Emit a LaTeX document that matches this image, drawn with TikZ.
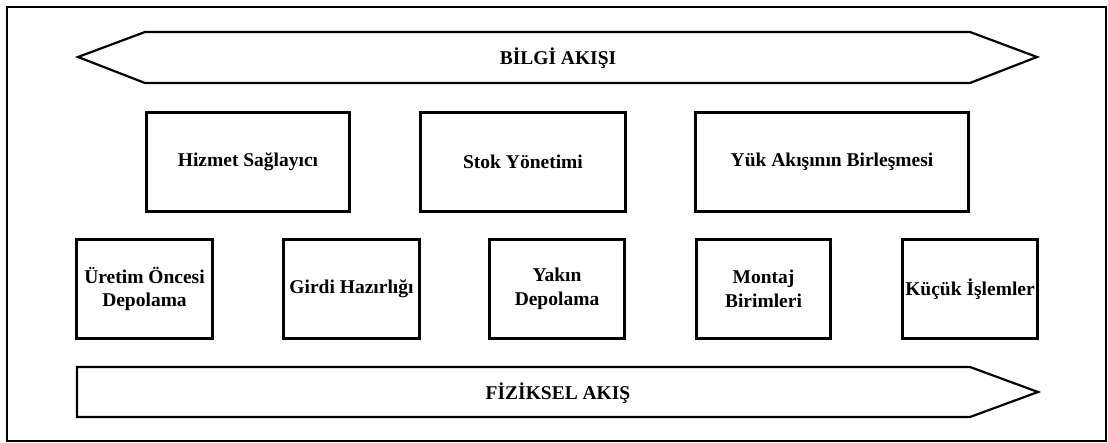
\documentclass[tikz,border=0pt]{standalone}
\usepackage{fontspec}
\setmainfont{Liberation Serif}
\usepackage{tikz}
\usetikzlibrary{positioning}

\begin{document}
\begin{tikzpicture}[
	x=1pt, y=-1pt,
	box/.style={draw, line width=2.8pt, align=center, inner sep=0pt, minimum height=99pt, font=\fontsize{19.5}{23.5}\selectfont\bfseries},
	flow/.style={draw, line width=2.2pt, line join=miter},
	lbl/.style={font=\fontsize{19.5}{23.5}\selectfont\bfseries}
]
\useasboundingbox (0,0) rectangle (1108,443);
\draw[line width=2pt] (7,7) rectangle (1106,441);

% information flow (both ways)
\coordinate (bl) at (78,57);
\coordinate (br) at (1037,57);
\draw[flow] (bl) -- (145,32) -- (970,32) -- (br) -- (970,83) -- (145,83) -- cycle;
\node[lbl] (bilgi) at (558,58) {BİLGİ AKIŞI};

% upper row
\node[box, minimum width=203pt] (hizmet) at (248,162) {Hizmet Sağlayıcı};
\node[box, minimum width=205pt] (stok) at (523,162) {Stok Yönetimi};
\node[box, minimum width=273pt] (yuk) at (832,162) {Yük Akışının Birleşmesi};

% lower row
\node[box, minimum width=136pt] (uretim) at (144.5,289) {Üretim Öncesi\\Depolama};
\node[box, minimum width=136pt] (girdi) at (351.5,289) {Girdi Hazırlığı};
\node[box, minimum width=135pt] (yakin) at (557,289) {Yakın\\Depolama};
\node[box, minimum width=134pt] (montaj) at (763.5,289) {Montaj\\Birimleri};
\node[box, minimum width=135pt] (kucuk) at (970,289) {Küçük İşlemler};

% physical flow
\coordinate (fl) at (77,367);
\coordinate (fr) at (1038,392);
\draw[flow] (fl) -- (970,367) -- (fr) -- (970,417) -- (77,417) -- cycle;
\node[lbl] (fiziksel) at (558,393) {FİZİKSEL AKIŞ};
\end{tikzpicture}
\end{document}
